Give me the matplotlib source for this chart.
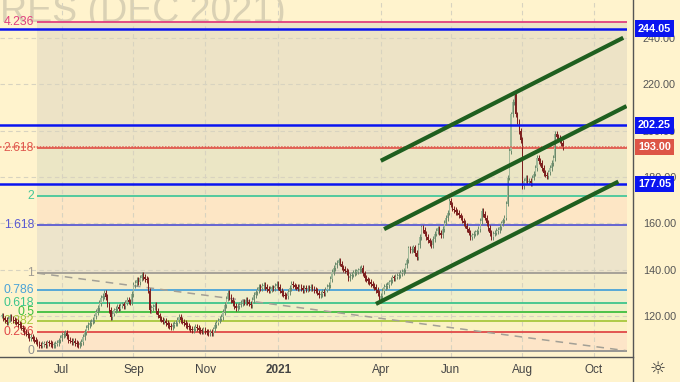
import numpy as np
import pandas as pd
import matplotlib
matplotlib.use("Agg")
import matplotlib.pyplot as plt
import matplotlib.transforms as mtransforms
from matplotlib.lines import Line2D

plt.rcParams['font.family'] = ['Liberation Sans', 'DejaVu Sans']

# daily closes (business days, last bar early Sep 2021)
closes = [
    120.2, 119.0, 118.3, 117.4, 118.6, 119.5, 119.0, 118.2, 117.9, 117.4,
    116.5, 116.0, 115.0, 114.2, 113.0, 112.4, 111.6, 110.5, 110.9, 110.2,
    109.7, 108.9, 108.1, 107.5, 107.2, 107.9, 108.0, 107.6, 108.6, 108.4,
    107.9, 107.3, 107.5, 108.1, 108.4, 109.5, 110.6, 111.8, 112.3, 112.7,
    111.2, 109.7, 109.4, 108.8, 109.1, 108.4, 108.0, 107.5, 108.2, 108.8,
    111.0, 113.2, 115.0, 116.1, 117.0, 117.6, 118.3, 119.8, 121.7, 123.4,
    125.6, 127.7, 128.6, 130.0, 128.1, 125.0, 122.6, 119.6, 121.0, 122.4,
    123.1, 124.0, 123.2, 124.5, 125.0, 124.1, 125.8, 126.9, 126.2, 126.0,
    129.5, 133.3, 134.2, 135.5, 134.6, 136.4, 137.6, 136.8, 136.0, 135.5,
    131.0, 122.6, 123.5, 124.0, 124.7, 122.1, 120.3, 119.0, 118.4, 117.6,
    117.9, 117.0, 116.2, 115.8, 115.3, 116.0, 116.7, 117.0, 118.2, 119.6,
    118.3, 117.6, 117.0, 116.0, 115.6, 115.1, 114.5, 114.0, 114.6, 115.2,
    114.8, 114.0, 113.6, 113.5, 114.2, 113.4, 113.0, 112.5, 113.1, 112.7,
    114.2, 116.0, 117.1, 118.0, 118.9, 119.6, 121.8, 124.7, 127.5, 130.0,
    128.3, 127.0, 125.6, 124.4, 123.4, 124.2, 124.9, 125.6, 126.3, 126.0,
    126.9, 126.0, 125.3, 124.7, 126.8, 129.0, 130.2, 131.1, 132.4, 132.0,
    132.9, 133.3, 132.5, 131.7, 131.0, 131.6, 132.3, 132.0, 133.1, 134.0,
    132.4, 131.0, 129.9, 129.2, 128.7, 128.5, 130.3, 132.1, 134.0, 133.2,
    132.7, 132.4, 131.8, 132.6, 132.0, 131.3, 132.1, 131.5, 132.2, 131.9,
    132.5, 131.8, 131.2, 131.0, 130.1, 129.0, 129.6, 130.4, 130.0, 131.4,
    132.5, 133.3, 136.0, 139.0, 140.8, 142.1, 143.0, 144.0, 142.6, 141.0,
    140.3, 139.6, 139.0, 136.3, 137.2, 137.9, 138.5, 138.9, 139.2, 139.7,
    140.2, 140.6, 138.4, 136.3, 135.8, 135.1, 134.6, 133.8, 133.1, 132.4,
    131.2, 130.0, 127.0, 128.6, 130.8, 132.4, 132.9, 133.3, 134.5, 135.6,
    136.7, 136.2, 137.0, 137.3, 137.6, 138.5, 138.9, 139.7, 141.8, 144.0,
    149.2, 148.5, 149.0, 149.6, 147.2, 145.3, 150.5, 154.0, 158.2, 157.1,
    155.6, 154.1, 152.6, 151.4, 150.5, 153.2, 155.6, 156.8, 157.8, 156.0,
    154.8, 157.6, 160.3, 162.4, 164.6, 169.8, 168.1, 166.4, 165.8, 165.0,
    164.6, 163.4, 162.5, 161.2, 160.1, 159.0, 157.4, 156.0, 153.9, 154.8,
    155.6, 156.1, 156.5, 157.5, 161.0, 165.5, 164.0, 162.5, 160.1, 158.0,
    155.9, 153.9, 155.6, 156.0, 156.6, 157.0, 158.4, 160.0, 161.3, 162.5,
    168.5, 179.7, 191.2, 207.0, 212.4, 215.7, 207.0, 204.0, 199.8, 196.0,
    176.0, 178.4, 179.7, 178.0, 178.4, 177.5, 179.7, 181.5, 184.0, 188.2,
    187.0, 186.0, 184.0, 181.8, 181.0, 180.5, 182.0, 184.0, 186.1, 188.2,
    198.5, 197.4, 196.8, 195.8, 194.7, 193.0,
]
last_date = "2021-09-06"

fib_low = 105.0
fib_high = 138.5
fib_levels = [0, 0.236, 0.382, 0.5, 0.618, 0.786, 1, 1.618, 2, 2.618, 4.236]
fib_labels = ["0", "0.236", "0.382", "0.5", "0.618", "0.786", "1", "1.618", "2", "2.618", "4.236"]
fib_colors = ["#8f8f8f", "#e04848", "#a8c83c", "#3fbf3f", "#3cc58c", "#4aa3d8",
              "#a09c94", "#5a5ad2", "#45c89a", "#e05a4f", "#e0407f"]
band_colors = ["#fde5c8", "#fbf2c4", "#f2f1c4", "#eef0c8", "#eeeecc",
               "#f4ecca", "#ede4cb", "#fde6c5", "#ebe6c5", "#ede3c6"]
fib_start = "2020-06-10"
fib_end = "2021-10-29"

h_levels = [244.05, 202.25, 177.05]
last_price = 193.00

channel_starts = [("2021-04-01", 187.0), ("2021-04-05", 157.5), ("2021-03-29", 125.2)]
channel_ends = [("2021-10-27", 240.1), ("2021-10-29", 210.6), ("2021-10-22", 178.0)]

month_ticks = ["2020-07-01", "2020-09-01", "2020-11-02", "2021-01-04",
               "2021-04-01", "2021-06-01", "2021-08-02", "2021-10-01"]
month_labels = ["Jul", "Sep", "Nov", "2021", "Apr", "Jun", "Aug", "Oct"]
price_ticks = [120, 140, 160, 180, 200, 220, 240]

bg = "#fff3cd"
dates = pd.bdate_range(end=last_date, periods=len(closes))
day0 = np.datetime64(dates[0].strftime("%Y-%m-%d"))


def pos(d):
    return int(np.busday_count(day0, np.datetime64(d)))


fig = plt.figure(figsize=(6.8, 3.82), dpi=100, facecolor=bg)
ax = fig.add_axes([0, 25 / 382, 627 / 680, 357 / 382])
ax.set_facecolor(bg)
for s in ax.spines.values():
    s.set_visible(False)
ax.set_xlim(-1.04, 384.3)
ax.set_ylim(102.3, 256.4)

# watermark
ax.text(0.0, 0.938, "RES (DEC 2021)", transform=ax.transAxes, ha="left", va="baseline",
        fontsize=27, color="#dad1b4", clip_on=True, zorder=0.2)

# fib bands and levels
xs, xe = pos(fib_start), pos(fib_end)
prices = [fib_low + l * (fib_high - fib_low) for l in fib_levels]
for i in range(len(prices) - 1):
    ax.fill_between([xs, xe], prices[i], prices[i + 1], color=band_colors[i], lw=0, zorder=0.5)

# grid
for m in month_ticks:
    ax.axvline(pos(m), color="#d8d3c0", lw=0.8, ls=(0, (4, 3)), zorder=0.8)
for p in price_ticks:
    ax.axhline(p, color="#d8d3c0", lw=0.8, ls=(0, (4, 3)), zorder=0.8)

for p, lab, c in zip(prices, fib_labels, fib_colors):
    ax.hlines(p, xs, xe, color=c, lw=1.3, zorder=1)
    ax.text(xs - 2, p, lab, ha="right", va="center", color=c, fontsize=8.8, zorder=1)
ax.plot([xs, xe], [fib_high, fib_low], color="#a3a096", lw=1.1, ls=(0, (5, 4)), zorder=1)

# candles
c = np.array(closes)
o = np.concatenate([[c[0]], c[:-1]])
x = np.arange(len(c))
up = c >= o
hi = np.maximum(o, c) + 1.2
lo = np.minimum(o, c) - 1.2
body_h = np.maximum(np.abs(c - o), 0.4)
ax.vlines(x[up], lo[up], hi[up], color="#6a886a", lw=0.7, zorder=2)
ax.vlines(x[~up], lo[~up], hi[~up], color="#7d1e1e", lw=0.7, zorder=2)
ax.bar(x[up], body_h[up], bottom=np.minimum(o, c)[up], width=0.7, color="#9fb898", lw=0, zorder=2.1)
ax.bar(x[~up], body_h[~up], bottom=np.minimum(o, c)[~up], width=0.7, color="#7d1e1e", lw=0, zorder=2.1)

# horizontal levels and last price
for v in h_levels:
    ax.axhline(v, color="#0a14f0", lw=1.8, zorder=3)
ax.axhline(last_price, color="#e05a4f", lw=1.1, ls=(0, (1, 1)), zorder=3)

# channel
for (d0, p0), (d1, p1) in zip(channel_starts, channel_ends):
    ax.plot([pos(d0), pos(d1)], [p0, p1], color="#1f5f1f", lw=3, solid_capstyle="butt", zorder=4)

# axes ticks
ax.yaxis.tick_right()
ax.set_yticks(price_ticks)
ax.set_yticklabels([f"{p:.2f}" for p in price_ticks])
ax.tick_params(axis="y", length=0, pad=11.5, labelsize=7.8, labelcolor="#555555")
ax.set_xticks([pos(m) for m in month_ticks])
ax.set_xticklabels(month_labels)
ax.tick_params(axis="x", length=0, pad=5, labelsize=8.5, labelcolor="#444444")
ax.get_xticklabels()[3].set_fontweight("bold")

trans = mtransforms.blended_transform_factory(ax.transAxes, ax.transData)
for v in h_levels:
    ax.text(1.044, v, f"{v:.2f}", transform=trans, ha="center", va="center", color="white",
            fontsize=7.8, fontweight="bold", clip_on=False, zorder=10,
            bbox=dict(boxstyle="square,pad=0.3", fc="#0a14f0", ec="none"))
ax.text(1.044, last_price, f"{last_price:.2f}", transform=trans, ha="center", va="center",
        color="white", fontsize=7.8, fontweight="bold", clip_on=False, zorder=10,
        bbox=dict(boxstyle="square,pad=0.3", fc="#dd5546", ec="none"))

fig.add_artist(Line2D([633 / 680, 633 / 680], [0, 1], color="#555555", lw=1))
fig.add_artist(Line2D([0, 633 / 680], [25 / 382, 25 / 382], color="#555555", lw=1))
fig.text(658 / 680, 13 / 382, "\u263c", ha="center", va="center", fontsize=13,
         color="#333333", family="DejaVu Sans")

plt.savefig("out.png", dpi=100, facecolor=bg)
plt.close()
